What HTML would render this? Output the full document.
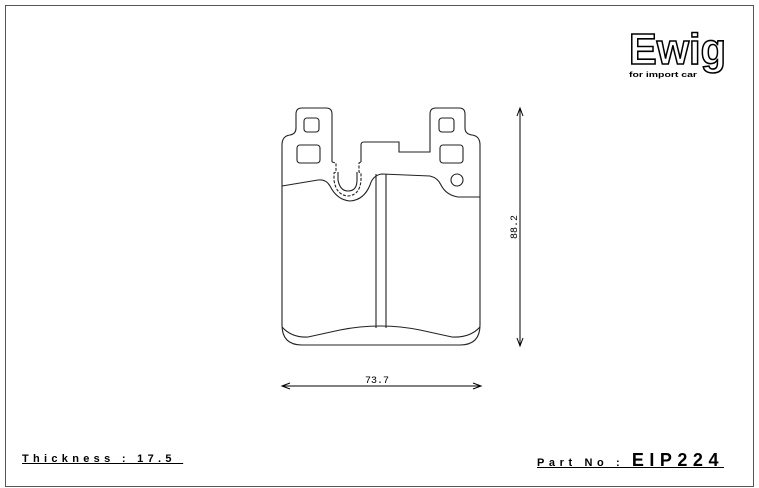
<!DOCTYPE html>
<html><head><meta charset="utf-8"><style>
html,body{margin:0;padding:0;background:#fff;}
body{width:759px;height:488px;overflow:hidden;position:relative;font-family:"Liberation Sans",sans-serif;}
.t{position:absolute;font-weight:bold;color:#000;text-decoration:underline;letter-spacing:4.3px;}
</style></head><body>
<svg width="759" height="488" style="position:absolute;left:0;top:0" xmlns="http://www.w3.org/2000/svg">
<rect x="5.5" y="5.5" width="748" height="481" fill="none" stroke="#555" stroke-width="1"/>
<g fill="none" stroke="#222" stroke-width="1.1">
<path d="M332,162 L332,114 Q332,108 326,108 L302,108 Q296,108 296,114 L296,128 Q296,134 290,135 Q282,136 282,145 L282,325 Q282,345 302,345 L460,345 Q480,345 480,325 L480,145 Q480,136 472,135 Q465,134 465,128 L465,114 Q465,108 459,108 L436,108 Q430,108 430,114 L430,152 L399,152 L399,142 L364,142 Q361,142 361,145 L361,162"/>
<path d="M282,186 L318,180 Q326,179 330,186 Q337,200 350,201 Q364,200 370,185 Q373,175 382,174 L430,176 Q438,178 441,185 Q446,195 458,197 L480,197"/>
<path d="M282,327 Q292,338 308,337 L340,330 Q380,322 420,330 L452,337 Q470,338 480,327"/>
<path d="M376,174 L376,328 M386,174 L386,328"/>
<path d="M332,162 L336,163 L336,172 L334,173 L334,180 Q336,195 348,196 Q360,195 361,180 L361,173 L359,172 L359,163 L361,162" stroke-dasharray="3,1.5"/>
<path d="M338,172 L338,180 Q340,191 348,191 Q357,191 357,180 L357,172"/>
<rect x="304" y="118" width="15" height="14" rx="3"/>
<rect x="297" y="145" width="23" height="18" rx="3"/>
<rect x="439" y="118" width="15" height="14" rx="3"/>
<rect x="440" y="145" width="23" height="18" rx="3"/>
<circle cx="457" cy="180" r="6"/>
</g>
<g stroke="#000" stroke-width="1" fill="none">
<line x1="520" y1="109" x2="520" y2="345"/>
<path d="M517,116 L520,108 L523,116 M517,338 L520,346 L523,338"/>
<line x1="282" y1="386" x2="481" y2="386"/>
<path d="M290,383 L282,386 L290,389 M473,383 L481,386 L473,389"/>
</g>
<text x="377" y="383" font-family="Liberation Mono,monospace" font-size="10" text-anchor="middle">73.7</text>
<text transform="translate(517,227) rotate(-90)" font-family="Liberation Mono,monospace" font-size="10" text-anchor="middle">88.2</text>
<text x="629" y="64" font-family="Liberation Sans,sans-serif" font-size="44" font-weight="bold" fill="#fff" stroke="#000" stroke-width="1.6" textLength="97" lengthAdjust="spacingAndGlyphs">Ewig</text>
<text x="629" y="77" font-family="Liberation Sans,sans-serif" font-size="7" font-weight="bold" textLength="68" lengthAdjust="spacingAndGlyphs">for import car</text>
</svg>
<div class="t" style="left:22px;top:453px;font-size:11px;">Thickness : 17.5&nbsp;</div>
<div class="t" style="left:537px;top:450px;font-size:11px;letter-spacing:4.6px">Part No : <span style="font-size:18px;letter-spacing:5.5px">EIP224</span></div>
</body></html>
